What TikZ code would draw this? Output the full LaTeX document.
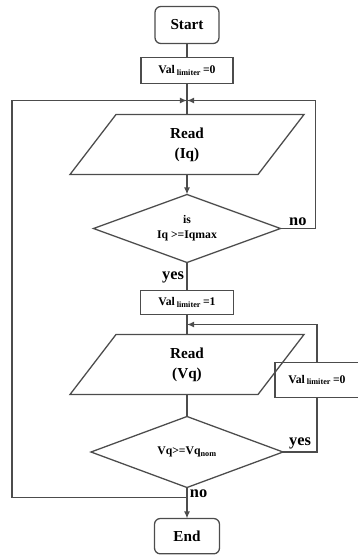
\documentclass[tikz,border=0pt]{standalone}
\usepackage{fontspec}
\setmainfont{Liberation Serif}
\usepackage{tikz}
\usetikzlibrary{arrows.meta, positioning, calc, shapes.geometric}

\begin{document}
\begin{tikzpicture}[
    font=\bfseries,
    >={Latex[length=6pt,width=5pt]},
    line width=1.1pt,
    terminal/.style={
      draw=black!70,
      rounded corners=5pt,
      align=center,
      outer sep=0pt,
      font=\fontsize{13}{15}\selectfont\bfseries,
      minimum width=1.92cm,
      minimum height=1.11cm
    },
    valbox/.style={
      draw=black!70,
      align=center,
      outer sep=0pt,
      inner sep=1pt,
      font=\fontsize{10}{12}\selectfont\bfseries,
      minimum width=2.76cm,
      minimum height=0.78cm
    },
    readbox/.style={
      align=center,
      outer sep=0pt,
      inner sep=0pt,
      font=\fontsize{13}{17}\selectfont\bfseries,
      minimum width=5.64cm,
      minimum height=1.8cm
    },
    decision/.style={
      draw=black!70,
      diamond,
      aspect=2.75,
      align=center,
      outer sep=0pt,
      inner sep=0pt,
      font=\fontsize{10}{13}\selectfont\bfseries,
      minimum width=5.61cm,
      minimum height=2.04cm
    },
    branch/.style={font=\fontsize{14}{16}\selectfont\bfseries, inner sep=2pt},
    line/.style={draw=black!70}
]
\useasboundingbox (0,0) rectangle (10.74,-16.68);

% main column
\node[terminal] (start) at (5.61,-0.75) {Start};
\node[valbox, below=0.42cm of start] (val0) {Val\,\textsubscript{limiter}\,=0};
\node[readbox, below=0.93cm of val0] (read1) {Read\\(Iq)};
\node[decision, below=0.6cm of read1] (dia1) {is\\Iq >=Iqmax};
\node[valbox, below=0.84cm of dia1, minimum width=2.79cm, minimum height=0.72cm] (val1) {Val\,\textsubscript{limiter}\,=1};
\node[readbox, below=0.6cm of val1] (read2) {Read\\(Vq)};
\node[decision, below=0.66cm of read2, minimum width=5.76cm, minimum height=2.13cm] (dia2) {Vq>=Vq\textsubscript{nom}};
\node[terminal, below=0.93cm of dia2, minimum width=1.95cm, minimum height=1.06cm] (end) {End};

% reset box on the right
\node[valbox, minimum width=2.52cm, minimum height=1.05cm] (valr) at ($(dia2.center)+(3.9,2.16)$) {Val\,\textsubscript{limiter}\,=0};

% slanted outline of the read boxes
\foreach \n in {read1,read2}
  \draw[line] ($(\n.north west)+(0.69,0)$) -- ($(\n.north east)+(0.69,0)$)
    -- ($(\n.south east)+(-0.69,0)$) -- ($(\n.south west)+(-0.69,0)$) -- cycle;

% joints
\coordinate (m1) at ($(val0.south)+(0,-0.51)$);
\coordinate (m2) at ($(val1.south)+(0,-0.3)$);
\coordinate (j) at ($(dia2.south)+(0,-0.3)$);
\coordinate (lft) at (0.36,0);

\draw[line] (start) -- (val0);
\draw[line] (val0) -- (read1);
\draw[line, ->] (read1) -- (dia1);
\draw[line] (dia1) -- node[branch, pos=0.55, left]{yes} (val1);
\draw[line] (val1) -- (read2);
\draw[line] (read2) -- (dia2);
\draw[line, ->] (dia2) -- node[branch, pos=0.2, right]{no} (end);

% loops
\draw[line, ->] (dia1.east) -- node[branch, above]{no} ++(1.04,0) |- (m1);
\draw[line, ->] (j) -- (j -| lft) |- (m1);
\draw[line] (dia2.east) -| node[branch, pos=0.25, above]{yes} (valr.south);
\draw[line, ->] (valr.north) |- (m2);
\end{tikzpicture}
\end{document}
